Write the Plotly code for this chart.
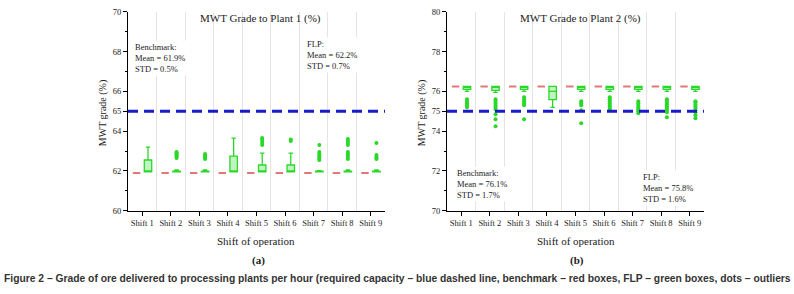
import plotly.graph_objects as go

# ---------------- data ----------------
shifts = ["Shift 1", "Shift 2", "Shift 3", "Shift 4", "Shift 5",
          "Shift 6", "Shift 7", "Shift 8", "Shift 9"]

# Plant 1 - benchmark (red, flat)
p1_bench = [61.9, 61.9, 61.9, 61.9, 61.9, 61.9, 61.9, 61.9, 61.9]
# Plant 1 - FLP box statistics
p1_q1 = [61.95, 61.95, 61.95, 61.95, 61.95, 61.95, 61.95, 61.95, 61.95]
p1_med = [61.97, 61.96, 61.96, 61.97, 61.97, 61.97, 61.96, 61.96, 61.96]
p1_q3 = [62.55, 61.99, 61.99, 62.75, 62.3, 62.3, 61.99, 61.99, 61.99]
p1_lo = [61.95, 61.95, 61.95, 61.95, 61.95, 61.95, 61.95, 61.95, 61.95]
p1_hi = [63.2, 62.05, 62.05, 63.65, 62.9, 62.9, 62.02, 62.05, 62.05]
p1_out = [
    [],
    [62.65, 62.7, 62.75, 62.8, 62.85, 62.9, 62.95],
    [62.6, 62.65, 62.7, 62.75, 62.8, 62.85],
    [],
    [63.3, 63.4, 63.5, 63.6, 63.65],
    [63.5, 63.58],
    [62.55, 62.6, 62.7, 62.75, 62.85, 62.95, 63.3],
    [62.6, 62.7, 62.8, 62.85, 62.95, 63.3, 63.4, 63.5, 63.6],
    [62.6, 62.65, 62.7, 62.8, 63.4],
]
p1_required = 65
p1_bench_txt = "Benchmark:<br>Mean = 61.9%<br>STD = 0.5%"
p1_flp_txt = "FLP:<br>Mean = 62.2%<br>STD = 0.7%"

# Plant 2 - benchmark (red, flat)
p2_bench = [76.25, 76.25, 76.25, 76.25, 76.25, 76.25, 76.25, 76.25, 76.25]
# Plant 2 - FLP box statistics
p2_q1 = [76.1, 76.05, 76.1, 75.58, 76.1, 76.1, 76.1, 76.1, 76.1]
p2_med = [76.2, 76.2, 76.2, 76.0, 76.2, 76.2, 76.2, 76.2, 76.2]
p2_q3 = [76.25, 76.25, 76.25, 76.25, 76.25, 76.25, 76.25, 76.25, 76.25]
p2_lo = [76.0, 75.95, 76.0, 75.2, 76.0, 76.0, 76.0, 76.0, 76.0]
p2_hi = [76.25, 76.25, 76.25, 76.25, 76.25, 76.25, 76.25, 76.25, 76.25]
p2_out = [
    [75.2, 75.3, 75.4, 75.5, 75.6],
    [75.1, 75.2, 75.3, 75.4, 75.5, 75.6, 74.85, 74.6, 74.25],
    [75.3, 75.4, 75.5, 75.6, 75.7, 74.6],
    [],
    [75.3, 75.4, 75.5, 75.05, 74.4],
    [75.1, 75.2, 75.3, 75.4, 75.5, 75.6, 75.7],
    [74.9, 75.0, 75.1, 75.2, 75.3, 75.4, 75.5],
    [74.7, 74.95, 75.05, 75.15, 75.25, 75.35, 75.45, 75.55, 75.6],
    [74.65, 74.8, 74.95, 75.05, 75.15, 75.25, 75.35, 75.45, 75.5],
]
p2_required = 75
p2_bench_txt = "Benchmark:<br>Mean = 76.1%<br>STD = 1.7%"
p2_flp_txt = "FLP:<br>Mean = 75.8%<br>STD = 1.6%"

titles = ["MWT Grade to Plant 1 (%)", "MWT Grade to Plant 2 (%)"]
y_title = "MWT grade (%)"
x_title = "Shift of operation"
p1_yticks = [60, 62, 64, 65, 66, 68, 70]
p2_yticks = [70, 72, 74, 75, 76, 78, 80]
caption = ("Figure 2 \u2013 Grade of ore delivered to processing plants per hour "
           "(required capacity \u2013 blue dashed line, benchmark \u2013 red boxes, "
           "FLP \u2013 green boxes, dots \u2013 outliers")

# ---------------- style ----------------
SERIF = "Liberation Serif, Times New Roman, serif"
RED_LINE = "#e07878"
RED_FILL = "#f4b4b4"
GREEN = "#2ad82a"
GREEN_FILL = "rgba(120,230,120,0.45)"
BLUE = "#1a1ac8"
GRID = "#e4e4e4"
TXT = "#222"
OFF = 0.2
BOXW = 0.26

idx = list(range(len(shifts)))

fig = go.Figure()


def add_panel(xa, ya, bench, q1, med, q3, lo, hi, outl):
    bx = [i - OFF for i in idx]
    fx = [i + OFF for i in idx]
    fig.add_trace(go.Box(
        x=bx, q1=bench, median=bench, q3=bench, lowerfence=bench, upperfence=bench,
        width=BOXW, line=dict(color=RED_LINE, width=2), fillcolor=RED_FILL,
        xaxis=xa, yaxis=ya, showlegend=False, hoverinfo="skip"))
    fig.add_trace(go.Box(
        x=fx, q1=q1, median=med, q3=q3, lowerfence=lo, upperfence=hi,
        width=BOXW, line=dict(color=GREEN, width=1.3), fillcolor=GREEN_FILL,
        whiskerwidth=0.6,
        xaxis=xa, yaxis=ya, showlegend=False, hoverinfo="skip"))
    ox, oy = [], []
    for i, vals in zip(idx, outl):
        for v in vals:
            ox.append(i + OFF)
            oy.append(v)
    fig.add_trace(go.Scatter(
        x=ox, y=oy, mode="markers", marker=dict(color=GREEN, size=4),
        xaxis=xa, yaxis=ya, showlegend=False, hoverinfo="skip"))


add_panel("x", "y", p1_bench, p1_q1, p1_med, p1_q3, p1_lo, p1_hi, p1_out)
add_panel("x2", "y2", p2_bench, p2_q1, p2_med, p2_q3, p2_lo, p2_hi, p2_out)

ydom = [1 - 213 / 294, 1 - 7 / 294]


def xaxis(domain, anchor):
    return dict(
        domain=domain, range=[-0.5, len(shifts) - 0.5], anchor=anchor,
        tickmode="array", tickvals=idx, ticktext=shifts,
        ticks="outside", ticklen=4, tickcolor="black", tickwidth=1,
        showline=True, linecolor="black", linewidth=1,
        showgrid=False, zeroline=False,
        tickfont=dict(family=SERIF, size=8.5, color=TXT),
        minor=dict(tickmode="array", tickvals=[i + 0.5 for i in idx[:-1]],
                   showgrid=True, gridcolor=GRID, gridwidth=1, ticks=""),
    )


def yaxis(rng, tv, anchor):
    return dict(
        domain=ydom, range=rng, tickmode="array", tickvals=tv,
        ticks="outside", ticklen=4, tickcolor="black", tickwidth=1,
        minor=dict(tickmode="linear", tick0=rng[0], dtick=1, ticks="outside",
                   ticklen=2, tickcolor="black", showgrid=False),
        showline=True, linecolor="black", linewidth=1,
        showgrid=False, zeroline=False, anchor=anchor,
        tickfont=dict(family=SERIF, size=8.5, color=TXT),
    )


fig.update_layout(
    width=794, height=294,
    margin=dict(l=0, r=0, t=0, b=0),
    paper_bgcolor="white", plot_bgcolor="white",
    boxmode="overlay",
    xaxis=xaxis([128 / 794, 385 / 794], "y"),
    xaxis2=xaxis([447 / 794, 704 / 794], "y2"),
    yaxis=yaxis([60, 70], p1_yticks, "x"),
    yaxis2=yaxis([70, 80], p2_yticks, "x2"),
    showlegend=False,
)

# required capacity lines
fig.add_shape(type="line", xref="x domain", yref="y", x0=0, x1=1,
              y0=p1_required, y1=p1_required,
              line=dict(color=BLUE, width=3, dash="10px,6px"))
fig.add_shape(type="line", xref="x2 domain", yref="y2", x0=0, x1=1,
              y0=p2_required, y1=p2_required,
              line=dict(color=BLUE, width=3, dash="10px,6px"))

ann_font = dict(family=SERIF, size=8.5, color=TXT)
big_font = dict(family=SERIF, size=11, color=TXT)
anns = [
    dict(text=titles[0], x=260 / 794, y=1 - 14 / 294, xanchor="center", yanchor="middle",
         font=big_font),
    dict(text=titles[1], x=580 / 794, y=1 - 14 / 294, xanchor="center", yanchor="middle",
         font=big_font),
    dict(text=y_title, x=103 / 794, y=1 - 112 / 294, xanchor="center", yanchor="middle",
         textangle=-90, font=dict(family=SERIF, size=10, color=TXT)),
    dict(text=y_title, x=422 / 794, y=1 - 112 / 294, xanchor="center", yanchor="middle",
         textangle=-90, font=dict(family=SERIF, size=10, color=TXT)),
    dict(text=x_title, x=256 / 794, y=1 - 244 / 294, xanchor="center", yanchor="middle",
         font=big_font),
    dict(text=x_title, x=576 / 794, y=1 - 244 / 294, xanchor="center", yanchor="middle",
         font=big_font),
    dict(text=p1_bench_txt, x=133 / 794, y=1 - 36 / 294, xanchor="left", yanchor="top",
         align="left", font=ann_font, bgcolor="white"),
    dict(text=p1_flp_txt, x=305 / 794, y=1 - 33 / 294, xanchor="left", yanchor="top",
         align="left", font=ann_font, bgcolor="white"),
    dict(text=p2_bench_txt, x=455 / 794, y=1 - 167 / 294, xanchor="left", yanchor="top",
         align="left", font=ann_font, bgcolor="white"),
    dict(text=p2_flp_txt, x=641 / 794, y=1 - 171 / 294, xanchor="left", yanchor="top",
         align="left", font=ann_font, bgcolor="white"),
    dict(text="<b>(a)</b>", x=258 / 794, y=1 - 264 / 294, xanchor="center", yanchor="middle",
         font=big_font),
    dict(text="<b>(b)</b>", x=577 / 794, y=1 - 264 / 294, xanchor="center", yanchor="middle",
         font=big_font),
    dict(text="<b>" + caption + "</b>", x=0.5, y=1 - 283 / 294, xanchor="center",
         yanchor="middle",
         font=dict(family="Liberation Sans, Arial, sans-serif", size=10.3, color="#333")),
]
for a in anns:
    a.update(xref="paper", yref="paper", showarrow=False)
fig.update_layout(annotations=anns)

fig.write_html("out.html",
               config={"displayModeBar": False},
               post_script="document.body.style.margin='0px';"
                           "document.body.style.overflow='hidden';")
